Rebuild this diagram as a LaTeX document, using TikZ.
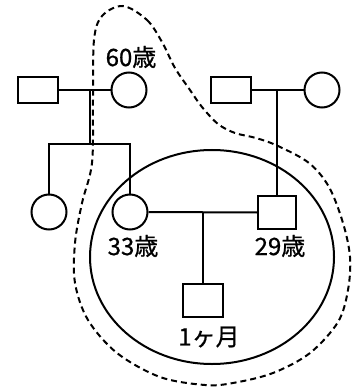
\documentclass[tikz,border=0pt]{standalone}
\usepackage{fontspec}
\setmainfont{Noto Sans CJK JP}
\newfontfamily\lblfont[FakeBold=0.8]{Noto Sans CJK JP}
\begin{document}
\begin{tikzpicture}[x=1pt,y=-1pt,
  line width=2pt,
  male/.style={draw,rectangle,minimum width=40pt,minimum height=33pt,inner sep=0pt},
  malesm/.style={draw,rectangle,minimum width=40pt,minimum height=26pt,inner sep=0pt},
  female/.style={draw,circle,minimum size=35pt,inner sep=0pt},
  lbl/.style={font=\lblfont\fontsize{24}{24}\selectfont,inner sep=0pt},
  boundary/.style={dash pattern=on 6pt off 4pt,line width=2pt}]
\useasboundingbox (0,0) rectangle (352,387);
% grandparents
\node[malesm] (gf1) at (38,90) {};
\node[female] (gm1) at (129,90) {};
\node[malesm] (gf2) at (230.5,90) {};
\node[female] (gm2) at (322,90) {};
% children
\node[female] (aunt) at (49,212) {};
\node[female] (mother) at (130,212) {};
\node[male,minimum width=38pt] (father) at (277,212.5) {};
\node[male] (child) at (203,300.5) {};
% labels
\node[lbl] (l60) at (131,57) {60歳};
\node[lbl] (l33) at (133,246) {33歳};
\node[lbl] (l29) at (280,246) {29歳};
\node[lbl] (l1) at (209,337) {1ヶ月};
% connector coordinates
\coordinate (m1) at (90,90);
\coordinate (s1) at (90,144);
\coordinate (m2) at (277,90);
\coordinate (m3) at (203,212);
% connectors
\draw (gf1.east) -- (gm1.west);
\draw (m1) -- (s1);
\draw (aunt.north) |- (s1) -| (mother.north);
\draw (gf2.east) -- (gm2.west);
\draw (m2) -- (father.north);
\draw (mother.east) -- (father.west);
\draw (m3) -- (child.north);
% household ellipse
\draw (212,257) ellipse [x radius=122, y radius=107];
% dashed boundary
\draw[boundary] plot[smooth cycle,tension=0.55] coordinates {
 (123,6) (147,20) (162,42) (175,68) (190,90) (202,107) (218,124) (235,133)
 (256,138) (278,146) (309,163) (329,187) (343,223) (350,257) (348,290)
 (338,322) (310,353) (273,373) (233,383) (205,385) (160,377) (117,353)
 (88,320) (75,283) (75,243) (82,203) (92,163) (93,100) (94,40) (102,16)};
\end{tikzpicture}
\end{document}
